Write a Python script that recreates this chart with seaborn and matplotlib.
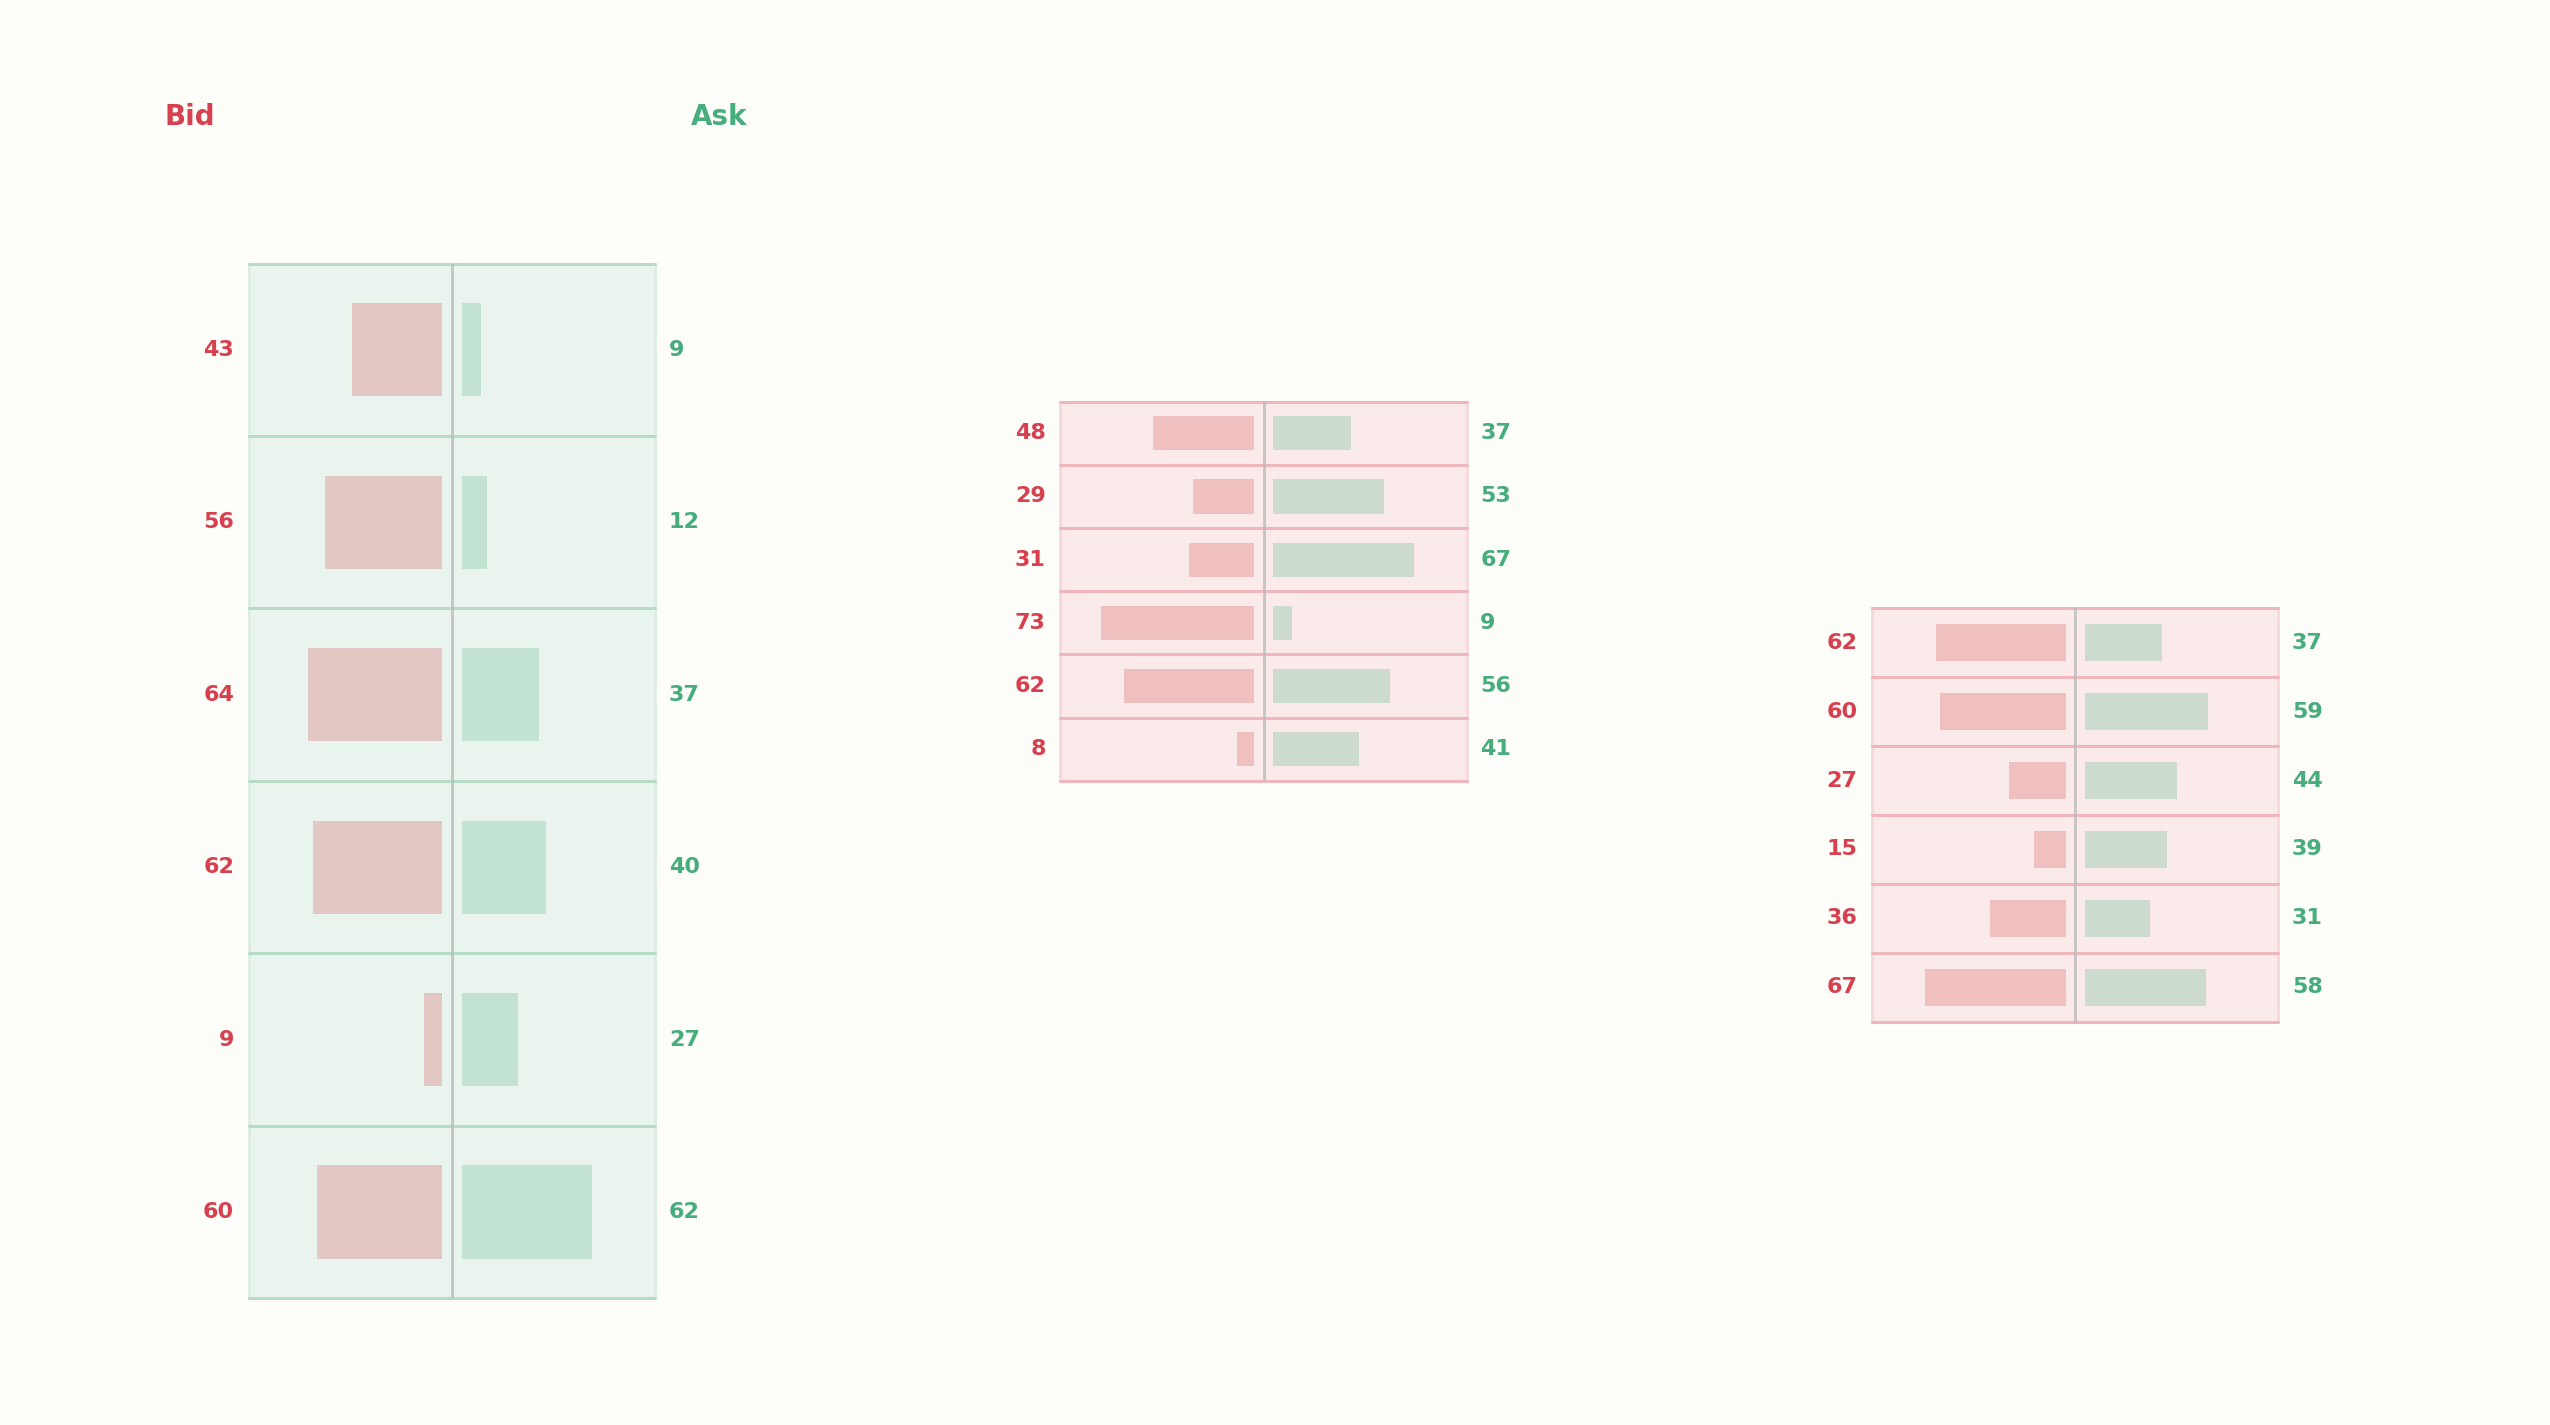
import matplotlib
matplotlib.use("Agg")
import matplotlib.pyplot as plt
import matplotlib.transforms as mtransforms
import seaborn as sns
import pandas as pd
import numpy as np

# ---- data ----
rows = ["r1", "r2", "r3", "r4", "r5", "r6"]
panel1_bid = [43, 56, 64, 62, 9, 60]
panel1_ask = [9, 12, 37, 40, 27, 62]
panel2_bid = [48, 29, 31, 73, 62, 8]
panel2_ask = [37, 53, 67, 9, 56, 41]
panel3_bid = [62, 60, 27, 15, 36, 67]
panel3_ask = [37, 59, 44, 39, 31, 58]
title_bid = "Bid"
title_ask = "Ask"

sns.set_theme(style="white")
plt.rcParams["font.family"] = ["DejaVu Sans"]

FIG_BG = "#fdfdf9"
BID_TXT = "#d6404f"
ASK_TXT = "#47ad7c"

fig = plt.figure(figsize=(25.5, 14.25), dpi=100, facecolor=FIG_BG)

HALF = 97.0
GAP = 4.6

themes = {
    "green": dict(bg="#eaf4ee", grid="#b6dcc8", edge="#dcece3",
                  bid="#e3c7c5", ask="#c3e3d2"),
    "pink": dict(bg="#faeaea", grid="#efb6bb", edge="#f5d9db",
                 bid="#f0bfc0", ask="#cddbcf"),
}

panels = [
    (panel1_bid, panel1_ask, [0.0976, 0.0890, 0.1594, 0.7260], "green"),
    (panel2_bid, panel2_ask, [0.4158, 0.4521, 0.1594, 0.2660], "pink"),
    (panel3_bid, panel3_ask, [0.7341, 0.2831, 0.1594, 0.2900], "pink"),
]

for bid, ask, rect, th in panels:
    t = themes[th]
    ax = fig.add_axes(rect)
    ax.set_facecolor(t["bg"])
    df = pd.DataFrame({"row": rows, "bid": bid, "ask": ask})
    df["bid_neg"] = -df["bid"]
    sns.barplot(data=df, x="bid_neg", y="row", order=rows, orient="h",
                color=t["bid"], saturation=1, width=0.54, left=-GAP, ax=ax,
                linewidth=0, edgecolor="none", zorder=2)
    sns.barplot(data=df, x="ask", y="row", order=rows, orient="h",
                color=t["ask"], saturation=1, width=0.54, left=GAP, ax=ax,
                linewidth=0, edgecolor="none", zorder=2)
    n = len(rows)
    ax.set_xlim(-HALF, HALF)
    ax.set_ylim(n - 0.5, -0.5)
    for k in range(n + 1):
        ax.axhline(k - 0.5, color=t["grid"], lw=2.2, zorder=3, clip_on=False)
    ax.axvline(0, color="#b9b9b9", lw=2, alpha=0.8, zorder=3)
    for side in ["top", "bottom"]:
        ax.spines[side].set_visible(False)
    for side in ["left", "right"]:
        ax.spines[side].set_visible(True)
        ax.spines[side].set_color(t["edge"])
        ax.spines[side].set_linewidth(2)
    ax.set_xticks([])
    ax.set_yticks([])
    ax.set_xlabel("")
    ax.set_ylabel("")
    trans = mtransforms.blended_transform_factory(ax.transAxes, ax.transData)
    for i, (b, a) in enumerate(zip(bid, ask)):
        ax.text(-0.036, i, str(b), transform=trans, ha="right", va="center",
                fontsize=16, fontweight="bold", color=BID_TXT)
        ax.text(1.033, i, str(a), transform=trans, ha="left", va="center",
                fontsize=16, fontweight="bold", color=ASK_TXT)

fig.text(0.0644, 0.9178, title_bid, ha="left", va="center", fontsize=20,
         fontweight="bold", color=BID_TXT)
fig.text(0.2710, 0.9178, title_ask, ha="left", va="center", fontsize=20,
         fontweight="bold", color=ASK_TXT)

fig.savefig("out.png", dpi=100, facecolor=FIG_BG)
